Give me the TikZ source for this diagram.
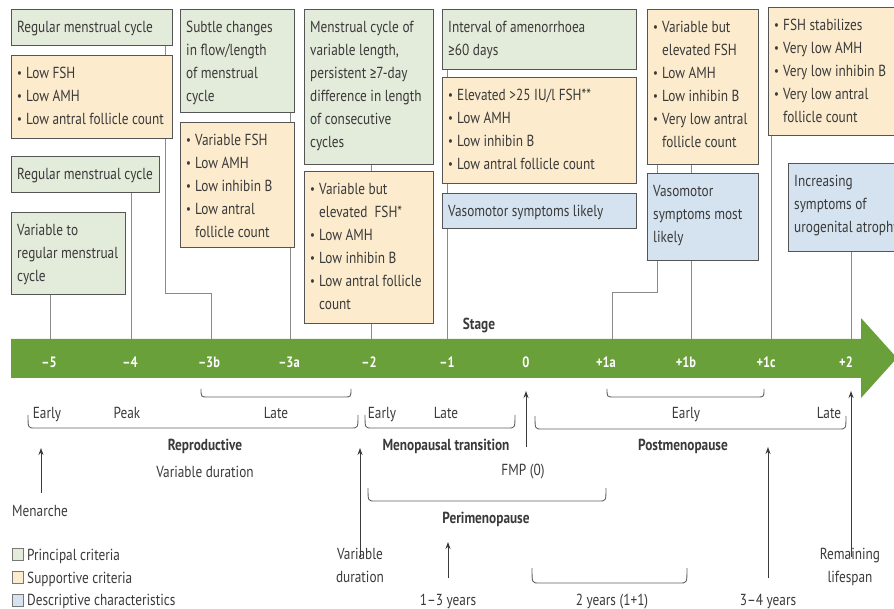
\documentclass[tikz,border=0pt]{standalone}
\usepackage{fontspec}
\setmainfont[FakeStretch=0.83]{PT Sans}
\newfontfamily\symf[FakeStretch=0.83]{Fira Sans}
\usetikzlibrary{arrows.meta,calc}

\definecolor{princ}{HTML}{E3EBDA}
\definecolor{supp}{HTML}{FCEBCD}
\definecolor{descr}{HTML}{D5E3F0}
\definecolor{edge}{HTML}{555555}
\definecolor{band}{HTML}{69A03A}
\definecolor{ink}{HTML}{3A3A3A}
\definecolor{link}{HTML}{8A8A8A}

\tikzset{
  boxbase/.style={draw=edge, line width=1.1pt, inner sep=0pt},
  pbox/.style={boxbase, fill=princ},
  sbox/.style={boxbase, fill=supp},
  dbox/.style={boxbase, fill=descr},
  txt/.style={inner sep=0pt, align=left, text=ink, font=\fontsize{16}{23}\selectfont},
  lbl/.style={inner sep=0pt, align=center, text=ink, font=\fontsize{16}{23}\selectfont},
  hdr/.style={lbl, font=\fontsize{16}{23}\selectfont\bfseries},
  stagelbl/.style={inner sep=0pt, text=white, font=\fontsize{15}{18}\selectfont\bfseries},
  linkline/.style={draw=link, line width=1pt},
  uparrow/.style={draw=ink, line width=0.9pt, -{Stealth[length=7pt,width=5pt]}},
  bracket/.style={draw=ink!80, line width=0.9pt},
  keysq/.style={draw=edge!80, line width=0.6pt, minimum width=11pt, minimum height=12pt, inner sep=0pt, anchor=north west}
}

% bullet and hanging indent for list lines
\newcommand\bu{\makebox[9pt][l]{\raisebox{1pt}{\fontsize{13}{13}\selectfont •}}}
\newcommand\ind{\hspace*{9pt}}
\newcommand\geqsym{{\symf ≥}}

% box with its text set from the top left corner
% #1 name, #2 style, #3 x, #4 y, #5 width, #6 height, #7 text
\newcommand\infobox[7]{%
  \node[#2, anchor=north west, minimum width=#5pt, minimum height=#6pt] (#1) at (#3,#4) {};
  \node[txt, anchor=north west] (#1-t) at ([xshift=6pt,yshift=-7pt]#1.north west) {\strut #7};
}
% open bracket with rounded ends: x1, x2, top y, bottom y
\newcommand\openbracket[4]{%
  \draw[bracket] (#1,#3) .. controls (#1,#4) .. (#1+7,#4) -- (#2-7,#4) .. controls (#2,#4) .. (#2,#3);
}

\begin{document}
\begin{tikzpicture}[x=1pt,y=-1pt]
\useasboundingbox (0,0) rectangle (894,609);
\clip (0,0) rectangle (894,609);

% stage axis
\fill[band] (11,339) -- (861,339) -- (861,318) -- (897,358) -- (861,398) -- (861,378) -- (11,378) -- cycle;

\coordinate (t5)  at (50,339);
\coordinate (t4)  at (131,339);
\coordinate (t3b) at (211,339);
\coordinate (t3a) at (290,339);
\coordinate (t2)  at (371,339);
\coordinate (t1)  at (447,339);
\coordinate (t1a) at (612,339);
\coordinate (t1b) at (691,339);
\coordinate (t1c) at (771,339);
\coordinate (tp2) at (851,339);

\node[stagelbl, anchor=base] (s5)  at (49,367)  {–5};
\node[stagelbl, anchor=base] (s4)  at (130,367) {–4};
\node[stagelbl, anchor=base] (s3b) at (209,367) {–3b};
\node[stagelbl, anchor=base] (s3a) at (289,367) {–3a};
\node[stagelbl, anchor=base] (s2)  at (369,367) {–2};
\node[stagelbl, anchor=base] (s1)  at (447,367) {–1};
\node[stagelbl, anchor=base] (s0)  at (526,367) {0};
\node[stagelbl, anchor=base] (p1a) at (606,367) {+1a};
\node[stagelbl, anchor=base] (p1b) at (686,367) {+1b};
\node[stagelbl, anchor=base] (p1c) at (766,367) {+1c};
\node[stagelbl, anchor=base] (p2)  at (846,367) {+2};

\node[hdr, anchor=base] (stage) at (479,330) {Stage};

% criteria boxes
\infobox{A}{pbox}{11}{9}{161}{36}{Regular menstrual cycle}
\infobox{B}{sbox}{11}{55}{161}{83}{\bu Low FSH\\ \bu Low AMH\\ \bu Low antral follicle count}
\infobox{C}{pbox}{11}{156}{148}{36}{Regular menstrual cycle}
\infobox{D}{pbox}{11}{212}{114}{82}{Variable to\\ regular menstrual\\ cycle}
\infobox{E}{pbox}{180}{9}{114}{103}{Subtle changes\\ in flow/length\\ of menstrual\\ cycle}
\infobox{F}{sbox}{180}{122}{114}{125}{\bu Variable FSH\\ \bu Low AMH\\ \bu Low inhibin B\\ \bu Low antral\\ \ind follicle count}
\infobox{G}{pbox}{304}{9}{129}{155}{Menstrual cycle of\\ variable length,\\ persistent \geqsym7-day\\ difference in length\\ of consecutive\\ cycles}
\infobox{H}{sbox}{304}{171}{129}{152}{\bu Variable but\\ \ind elevated\ \ FSH*\\ \bu Low AMH\\ \bu Low inhibin B\\ \bu Low antral follicle\\ \ind count}
\infobox{I}{pbox}{442}{9}{194}{60}{Interval of amenorrhoea\\ \geqsym60 days}
\infobox{J}{sbox}{442}{77}{194}{106}{\bu Elevated >25 IU/l FSH**\\ \bu Low AMH\\ \bu Low inhibin B\\ \bu Low antral follicle count}
\infobox{K}{dbox}{442}{193}{194}{35}{Vasomotor symptoms likely}
\infobox{L}{sbox}{647}{9}{111}{155}{\bu Variable but\\ \ind elevated FSH\\ \bu Low AMH\\ \bu Low inhibin B\\ \bu Very low antral\\ \ind follicle count}
\infobox{M}{dbox}{647}{173}{111}{87}{Vasomotor\\ symptoms most\\ likely}
\infobox{N}{sbox}{768}{7}{132}{128}{\bu FSH stabilizes\\ \bu Very low AMH\\ \bu Very low inhibin B\\ \bu Very low antral\\ \ind follicle count}
\infobox{O}{dbox}{788}{163}{120}{88}{Increasing\\ symptoms of\\ urogenital atrophy}

% links from boxes down to the axis
\coordinate (bendB) at (165,294);
\coordinate (bendM) at (657,293);
\draw[linkline] (t5 |- D.south) -- (t5);
\draw[linkline] (t4 |- C.south) -- (t4);
\draw[linkline] (bendB |- A.south) -- (bendB |- B.north);
\draw[linkline] (bendB |- B.south) -- (bendB) -| (t3b);
\draw[linkline] (t3a |- E.south) -- (t3a |- F.north);
\draw[linkline] (t3a |- F.south) -- (t3a);
\draw[linkline] (t2 |- G.south) -- (t2 |- H.north);
\draw[linkline] (t2 |- H.south) -- (t2);
\draw[linkline] (t1 |- I.south) -- (t1 |- J.north);
\draw[linkline] (t1 |- J.south) -- (t1 |- K.north);
\draw[linkline] (t1 |- K.south) -- (t1);
\draw[linkline] (bendM |- L.south) -- (bendM |- M.north);
\draw[linkline] (t1b |- L.south) -- (t1b |- M.north);
\draw[linkline] (bendM |- M.south) -- (bendM) -| (t1a);
\draw[linkline] (t1b |- M.south) -- (t1b);
\draw[linkline] (t1c |- N.south) -- (t1c);
\draw[linkline] (tp2 |- O.south) -- (tp2);

% phases below the axis
\openbracket{201}{351}{389}{397}
\openbracket{607}{764}{389}{397}
\openbracket{28}{358}{415}{428}
\openbracket{365}{515}{415}{428}
\openbracket{535}{846}{416}{429}
\openbracket{368}{606}{488}{501}
\openbracket{532}{687}{568}{583}

\node[lbl, anchor=base] (eR) at (47,418)  {Early};
\node[lbl, anchor=base] (pk) at (127,418) {Peak};
\node[lbl, anchor=base] (lR) at (276,418) {Late};
\node[lbl, anchor=base] (eM) at (382,418) {Early};
\node[lbl, anchor=base] (lM) at (446,418) {Late};
\node[lbl, anchor=base] (eP) at (686,418) {Early};
\node[lbl, anchor=base] (lP) at (829,418) {Late};

\node[hdr, anchor=base] (repro) at (205,450) {Reproductive};
\node[hdr, anchor=base] (mtrans) at (446,450) {Menopausal transition};
\node[hdr, anchor=base] (postm) at (683,450) {Postmenopause};
\node[lbl, anchor=base] (vdur) at (205,477) {Variable duration};
\node[lbl, anchor=base] (fmp) at (523,475) {FMP (0)};
\node[hdr, anchor=base] (perim) at (486,523) {Perimenopause};

\node[lbl, anchor=base] (menarche) at (40,516) {Menarche};
\node[lbl, anchor=base] (vdur2) at (360,582) {Variable\\duration};
\node[lbl, anchor=base] (y13) at (448,605) {1–3 years};
\node[lbl, anchor=base] (y2) at (612,605) {2 years (1+1)};
\node[lbl, anchor=base] (y34) at (768,605) {3–4 years};
\node[lbl, anchor=base] (rem) at (850,582) {Remaining\\lifespan};

% event markers
\coordinate (aMen) at (41,448);
\coordinate (aVar) at (360,448);
\coordinate (a13)  at (448,542);
\coordinate (aFmp) at (526,391);
\coordinate (a34)  at (768,447);
\coordinate (aRem) at (851,391);
\draw[uparrow] (aMen |- 0,493) -- (aMen);
\draw[uparrow] (aVar |- 0,557) -- (aVar);
\draw[uparrow] (a13 |- 0,578) -- (a13);
\draw[uparrow] (aFmp |- 0,447) -- (aFmp);
\draw[uparrow] (a34 |- 0,578) -- (a34);
\draw[uparrow] (aRem |- 0,557) -- (aRem);

% key
\node[keysq, fill=princ] (k1) at (12,548) {};
\node[keysq, fill=supp]  (k2) at (12,571) {};
\node[keysq, fill=descr] (k3) at (12,594) {};
\node[txt, anchor=base west] (k1t) at (27,560) {Principal criteria};
\node[txt, anchor=base west] (k2t) at (27,583) {Supportive criteria};
\node[txt, anchor=base west] (k3t) at (27,605) {Descriptive characteristics};
\end{tikzpicture}
\end{document}
